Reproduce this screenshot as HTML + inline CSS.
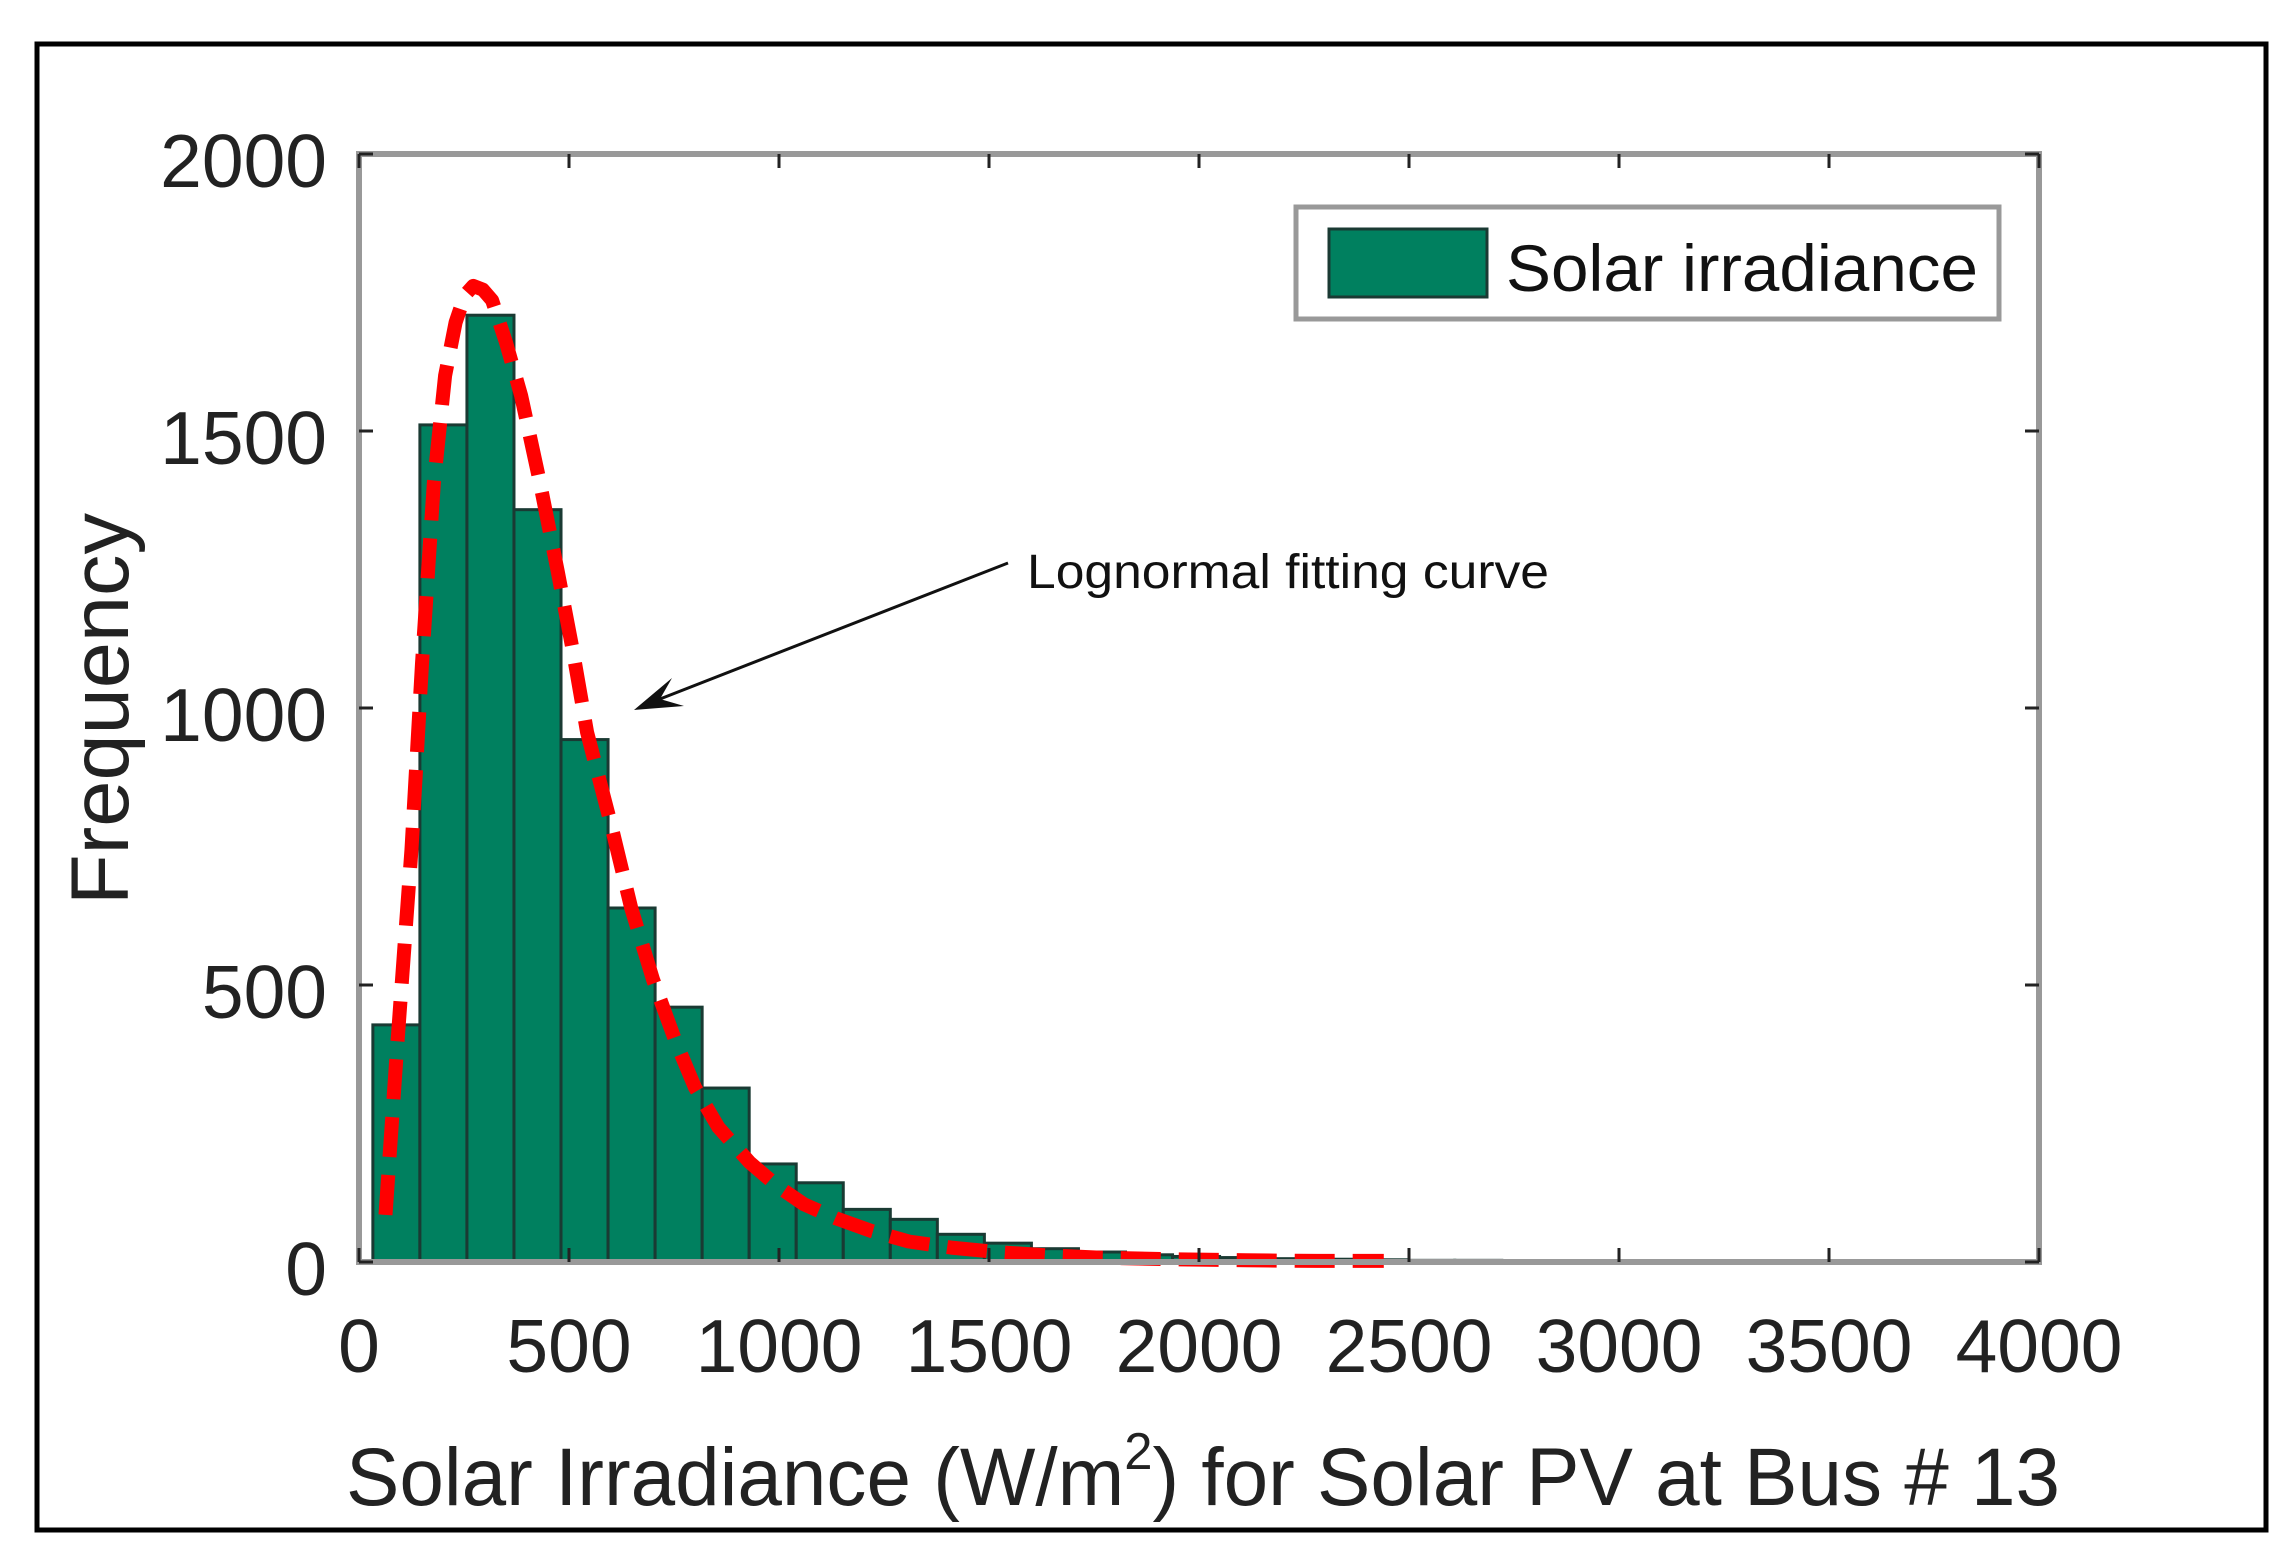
<!DOCTYPE html>
<html><head><meta charset="utf-8"><style>
html,body{margin:0;padding:0;background:#fff;}
svg{display:block;font-family:"Liberation Sans",Arial,sans-serif;}
</style></head><body>
<svg id="chart" width="2295" height="1554" viewBox="0 0 2295 1554" xmlns="http://www.w3.org/2000/svg">
<rect x="37" y="44" width="2229" height="1486" fill="#fff" stroke="#000" stroke-width="5"/>
<g id="bars"></g>
<g id="curve"></g>
<rect x="359" y="154" width="1680" height="1108" fill="none" stroke="#999" stroke-width="6"/>
<g id="ticks"></g>
<g>
<rect x="1296" y="207" width="703" height="112" fill="#fff" stroke="#999" stroke-width="5"/>
<rect x="1329" y="229" width="158" height="68" fill="#00805f" stroke="#1a3a33" stroke-width="3"/>
<text x="1506" y="291" font-size="66" fill="#111" textLength="472" lengthAdjust="spacingAndGlyphs">Solar irradiance</text>
</g>
<g>
<line x1="1008" y1="563" x2="660" y2="699" stroke="#111" stroke-width="3"/>
<polygon points="634,710 672,678 660,699 684,706" fill="#111"/>
<text x="1027" y="588" font-size="48" fill="#111" textLength="522" lengthAdjust="spacingAndGlyphs">Lognormal fitting curve</text>
</g>
<text x="346" y="1505" font-size="82" fill="#222" textLength="1714" lengthAdjust="spacingAndGlyphs">Solar Irradiance (W/m<tspan dy="-36" font-size="52">2</tspan><tspan dy="36">) for Solar PV at Bus # 13</tspan></text>
<text transform="translate(128,709) rotate(-90)" text-anchor="middle" font-size="82" fill="#222" textLength="392" lengthAdjust="spacingAndGlyphs">Frequency</text>
</svg>
<script>
const binStart = 33;
const binWidth = 112;
const counts = [428,1511,1709,1358,943,639,460,314,177,143,95,77,50,34,24,18,13,10,8,6,5,4,3,3,2,2,1,1,1,1];
const curveX = [63,90,125,150,178,205,230,252,272,295,317,350,386,430,473,510,543,600,648,700,752,800,856,930,996,1060,1135,1220,1309,1410,1518,1640,1762,1930,2110,2280,2440];
const curveY = [85,380,745,1080,1405,1600,1696,1745,1762,1755,1736,1660,1564,1410,1247,1100,956,790,639,510,402,315,243,180,137,104,79,56,37,26,18,12,8,5,3,2,2];
const xTicks = [0,500,1000,1500,2000,2500,3000,3500,4000];
const yTicks = [0,500,1000,1500,2000];
const NS='http://www.w3.org/2000/svg';
const X0=359,X1=2039,Y0=1262,Y1=154;
function xs(v){return X0+(v/4000)*(X1-X0);}
function ys(v){return Y0-(v/2000)*(Y0-Y1);}
function mk(tag,attrs){const e=document.createElementNS(NS,tag);for(const k in attrs)e.setAttribute(k,attrs[k]);return e;}
const bars=document.getElementById('bars');
counts.forEach((c,i)=>{
  const a=binStart+i*binWidth,b=a+binWidth;
  const r=mk('rect',{x:xs(a),y:ys(c),width:xs(b)-xs(a),height:Y0-ys(c),fill:'#00805f',stroke:'#1a3a33','stroke-width':3});
  
  
  bars.appendChild(r);
});
const pts=curveX.map((x,i)=>xs(x).toFixed(1)+','+ys(curveY[i]).toFixed(1)).join(' ');
const pl=mk('polyline',{points:pts,fill:'none',stroke:'#ff0000','stroke-width':14,'stroke-dasharray':'40 18','stroke-linejoin':'round'});


document.getElementById('curve').appendChild(pl);
const tk=document.getElementById('ticks');
xTicks.forEach(v=>{
  const x=xs(v);
  const l1=mk('line',{x1:x,y1:Y0,x2:x,y2:Y0-14,stroke:'#222','stroke-width':3});
  
  
  tk.appendChild(l1);
  const l2=mk('line',{x1:x,y1:Y1,x2:x,y2:Y1+14,stroke:'#222','stroke-width':3});
  
  
  tk.appendChild(l2);
  const t=mk('text',{x:x,y:1372,'text-anchor':'middle','font-size':75,fill:'#222'});
  t.textContent=v;
  
  
  tk.appendChild(t);
});
yTicks.forEach(v=>{
  const y=ys(v);
  const l1=mk('line',{x1:X0,y1:y,x2:X0+14,y2:y,stroke:'#222','stroke-width':3});
  
  
  tk.appendChild(l1);
  const l2=mk('line',{x1:X1,y1:y,x2:X1-14,y2:y,stroke:'#222','stroke-width':3});
  
  
  tk.appendChild(l2);
  const t=mk('text',{x:327,y:y+33,'text-anchor':'end','font-size':75,fill:'#222'});
  t.textContent=v;
  
  
  tk.appendChild(t);
});
</script>
</body></html>
